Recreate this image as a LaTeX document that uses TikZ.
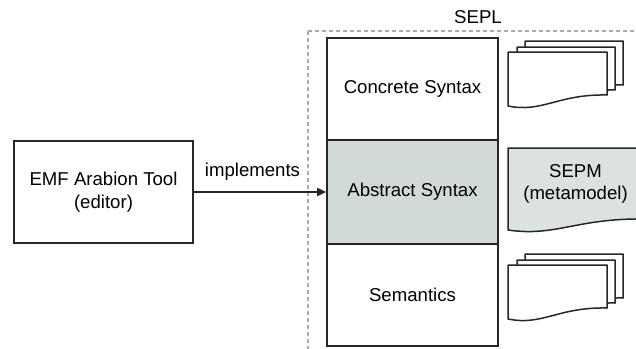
\documentclass[tikz,border=0pt]{standalone}
\usepackage{fontspec}
\setmainfont{Liberation Sans}
\usetikzlibrary{arrows.meta}
\definecolor{abgray}{RGB}{210,217,217}
\definecolor{sepmgray}{RGB}{220,226,226}
\definecolor{dashgray}{RGB}{160,176,176}
\tikzset{
  txt/.style={font=\fontsize{18.6}{22.5}\selectfont, align=center},
  boxline/.style={draw=black!85, line width=1.6pt},
  layer/.style={boxline, minimum width=171pt, inner sep=0pt, txt},
  docline/.style={draw=black!85, line width=1.5pt, line join=round},
  pics/docpage/.style n args={3}{code={
    \draw[docline, fill=#3] (0,0) -- (#1,0) -- (#1,#2-11)
      .. controls (0.5*#1,#2-12) and (0.35*#1,#2+7) .. (0,#2) -- cycle;
  }},
}
\begin{document}
\begin{tikzpicture}[x=1pt, y=-1pt]
\useasboundingbox (0,0) rectangle (636,348);
\clip (0,0) rectangle (636,348);
% container
\draw[dashgray, line width=1.2pt, dash pattern=on 4pt off 3pt] (308,31) rectangle (650,370);
\node[txt, anchor=base] (sepl) at (478,23) {SEPL};
% layers
\node[layer, minimum height=102pt] (concrete) at (412.5,89) {Concrete Syntax};
\node[layer, minimum height=104pt, fill=abgray] (abstract) at (412.5,192) {Abstract Syntax};
\node[layer, minimum height=102pt] (semantics) at (412.5,295) {Semantics};
% editor
\node[boxline, txt, minimum width=179pt, minimum height=102pt, inner sep=0pt] (emf) at (103.5,192) {EMF Arabion Tool\\(editor)};
\draw[line width=1.6pt, black!85, -{Triangle[length=9pt, width=8pt]}] (emf.east) -- (abstract.west);
\node[txt] (impl) at (252.5,172) {implements};
% documents top
\pic at (525,41) {docpage={98}{55}{white}};
\pic at (517,47) {docpage={98}{54}{white}};
\pic at (508,52) {docpage={99}{54}{white}};
% SEPM
\pic at (508,148) {docpage={137}{82}{sepmgray}};
\node[txt] (sepm) at (575.5,184) {SEPM\\(metamodel)};
% documents bottom
\pic at (525,254) {docpage={98}{55}{white}};
\pic at (517,260) {docpage={98}{54}{white}};
\pic at (508,265) {docpage={99}{54}{white}};
\end{tikzpicture}
\end{document}
